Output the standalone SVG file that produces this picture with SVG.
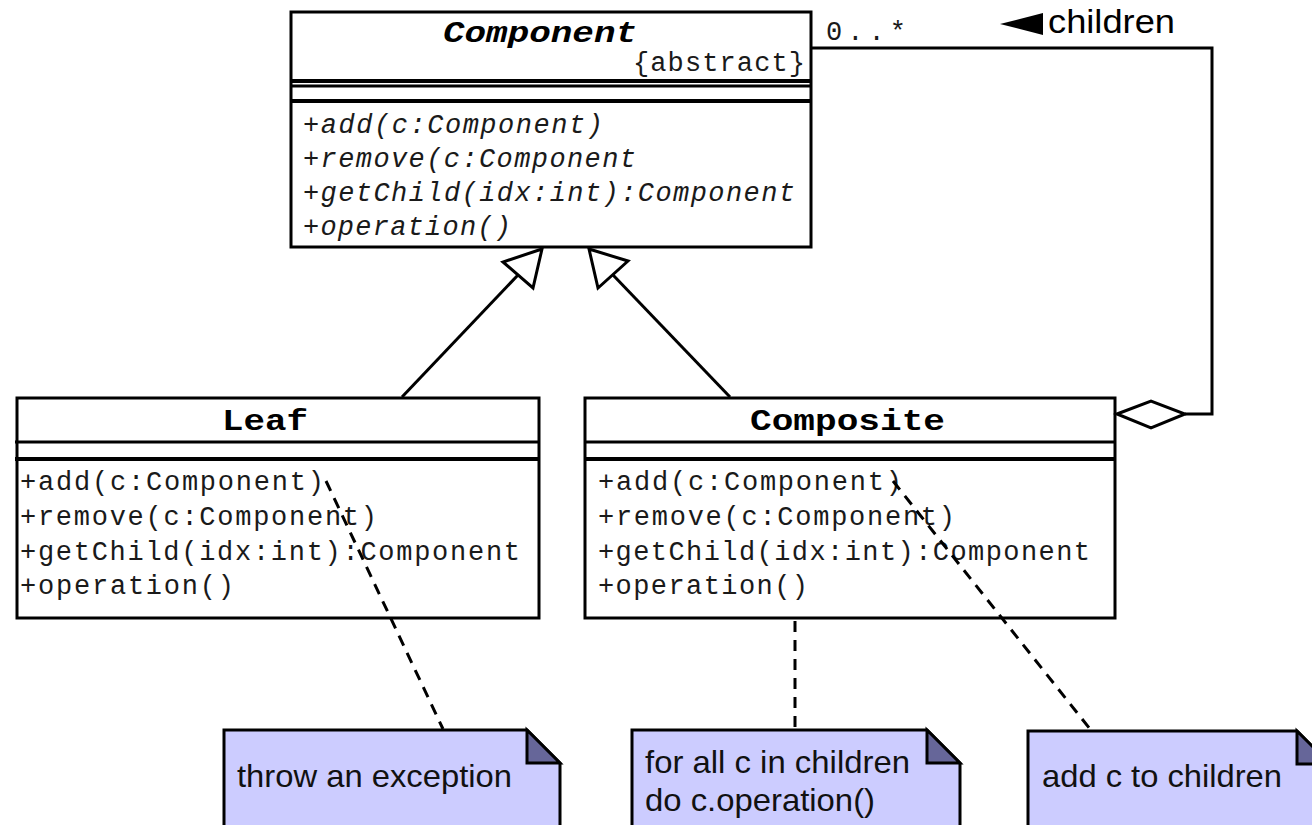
<svg xmlns="http://www.w3.org/2000/svg" width="1312" height="825" viewBox="0 0 1312 825">
  <style>
    .box { fill: #ffffff; stroke: #000000; stroke-width: 3; }
    .sep { stroke: #000000; stroke-width: 3; }
    .sep-thick { stroke: #000000; stroke-width: 4; }
    .mono { font-family: "Liberation Mono", "DejaVu Sans Mono", monospace; font-size: 27px; fill: #1a1a1a; }
    .title { font-family: "Liberation Mono", "DejaVu Sans Mono", monospace; font-size: 30px; font-weight: bold; fill: #000000; }
    .ital { font-style: italic; }
    .line { fill: none; stroke: #000000; stroke-width: 3; }
    .dash { fill: none; stroke: #000000; stroke-width: 3; stroke-dasharray: 11 8; }
    .hollow { fill: #ffffff; stroke: #000000; stroke-width: 3; stroke-linejoin: miter; }
    .note { fill: #ccccff; stroke: #000000; stroke-width: 3; }
    .fold { fill: #666699; stroke: #000000; stroke-width: 3; stroke-linejoin: miter; }
    .ntext { font-family: "Liberation Sans", Arial, sans-serif; font-size: 32px; fill: #111111; }
  </style>

  <!-- abstract class Component -->
  <g id="component">
    <rect class="box" x="291" y="12" width="520" height="235"/>
    <line class="sep-thick" x1="291" y1="81" x2="811" y2="81"/>
    <line class="sep" x1="291" y1="86" x2="811" y2="86"/>
    <line class="sep-thick" x1="291" y1="101" x2="811" y2="101"/>
    <text class="title ital" x="443" y="42" textLength="194" lengthAdjust="spacingAndGlyphs">Component</text>
    <text class="mono" x="633" y="71" textLength="172" lengthAdjust="spacing">{abstract}</text>
    <text class="mono ital" x="303" y="133" textLength="300" lengthAdjust="spacing">+add(c:Component)</text>
    <text class="mono ital" x="303" y="167" textLength="333" lengthAdjust="spacing">+remove(c:Component</text>
    <text class="mono ital" x="303" y="201" textLength="492" lengthAdjust="spacing">+getChild(idx:int):Component</text>
    <text class="mono ital" x="303" y="235" textLength="208" lengthAdjust="spacing">+operation()</text>
  </g>

  <!-- class Leaf -->
  <g id="leaf">
    <rect class="box" x="17" y="398" width="522" height="220"/>
    <line class="sep" x1="15" y1="442" x2="539" y2="442"/>
    <line class="sep-thick" x1="15" y1="459" x2="539" y2="459"/>
    <text class="title" x="222" y="430" textLength="86" lengthAdjust="spacingAndGlyphs">Leaf</text>
    <text class="mono" x="20" y="490" textLength="304" lengthAdjust="spacing">+add(c:Component)</text>
    <text class="mono" x="20" y="525" textLength="357" lengthAdjust="spacing">+remove(c:Component)</text>
    <text class="mono" x="20" y="560" textLength="500" lengthAdjust="spacing">+getChild(idx:int):Component</text>
    <text class="mono" x="20" y="594" textLength="214" lengthAdjust="spacing">+operation()</text>
  </g>

  <!-- class Composite -->
  <g id="composite">
    <rect class="box" x="585" y="398" width="530" height="220"/>
    <line class="sep" x1="585" y1="442" x2="1115" y2="442"/>
    <line class="sep-thick" x1="585" y1="459" x2="1115" y2="459"/>
    <text class="title" x="750" y="430" textLength="195" lengthAdjust="spacingAndGlyphs">Composite</text>
    <text class="mono" x="598" y="490" textLength="304" lengthAdjust="spacing">+add(c:Component)</text>
    <text class="mono" x="598" y="525" textLength="357" lengthAdjust="spacing">+remove(c:Component)</text>
    <text class="mono" x="598" y="560" textLength="492" lengthAdjust="spacing">+getChild(idx:int):Component</text>
    <text class="mono" x="598" y="594" textLength="210" lengthAdjust="spacing">+operation()</text>
  </g>

  <!-- connectors (drawn over the class boxes) -->
  <g id="connectors">
    <!-- generalization Leaf -> Component -->
    <line class="line" x1="402" y1="397" x2="518" y2="275"/>
    <polygon class="hollow" points="542,249 503,262 533,288"/>
    <!-- generalization Composite -> Component -->
    <line class="line" x1="730" y1="397" x2="613" y2="275"/>
    <polygon class="hollow" points="589,249 628,261 598,288"/>
    <!-- aggregation Composite <>- Component (children) -->
    <polyline class="line" points="811,48 1212,48 1212,414 1185,414"/>
    <polygon class="hollow" points="1117,414 1151,401 1185,414 1151,428"/>
    <text class="mono" x="826" y="40" font-size="28" textLength="80" lengthAdjust="spacing">0..*</text>
    <polygon points="1000,24 1043,13 1043,35" fill="#000000"/>
    <text x="1048" y="33" font-family="Liberation Sans, Arial, sans-serif" font-size="34" fill="#000000" textLength="127" lengthAdjust="spacingAndGlyphs">children</text>
    <!-- note anchors -->
    <line class="dash" x1="326" y1="481" x2="443" y2="729"/>
    <line class="dash" x1="795" y1="621" x2="795" y2="729"/>
    <line class="dash" x1="893" y1="481" x2="1090" y2="729"/>
  </g>

  <!-- note on Leaf.add -->
  <g id="note-leaf">
    <path class="note" d="M224,730 L527,730 L560,763 L560,840 L224,840 Z"/>
    <polygon class="fold" points="527,730 560,763 527,763"/>
    <text class="ntext" x="237" y="787" textLength="275" lengthAdjust="spacingAndGlyphs">throw an exception</text>
  </g>

  <!-- note on Composite.operation -->
  <g id="note-operation">
    <path class="note" d="M632,730 L927,730 L960,763 L960,840 L632,840 Z"/>
    <polygon class="fold" points="927,730 960,763 927,763"/>
    <text class="ntext" x="645" y="773" textLength="265" lengthAdjust="spacingAndGlyphs">for all c in children</text>
    <text class="ntext" x="645" y="811" textLength="230" lengthAdjust="spacingAndGlyphs">do c.operation()</text>
  </g>

  <!-- note on Composite.add -->
  <g id="note-add">
    <path class="note" d="M1028,731 L1297,731 L1330,764 L1330,840 L1028,840 Z"/>
    <polygon class="fold" points="1297,731 1330,764 1297,764"/>
    <text class="ntext" x="1042" y="787" textLength="240" lengthAdjust="spacingAndGlyphs">add c to children</text>
  </g>
</svg>
